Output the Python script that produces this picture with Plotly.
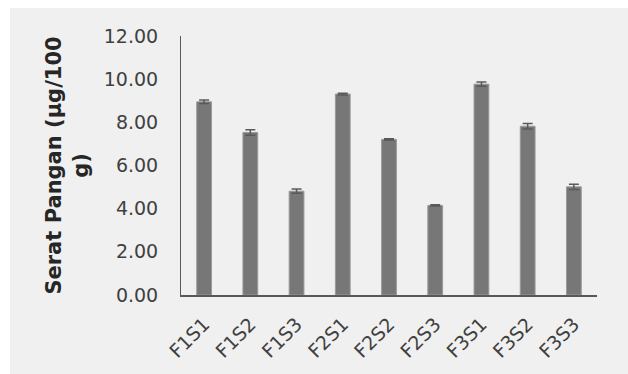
import plotly.graph_objects as go

categories = ["F1S1", "F1S2", "F1S3", "F2S1", "F2S2", "F2S3", "F3S1", "F3S2", "F3S3"]
values = [8.95, 7.53, 4.81, 9.31, 7.21, 4.15, 9.77, 7.82, 5.01]
errors = [0.08, 0.13, 0.10, 0.04, 0.03, 0.03, 0.10, 0.13, 0.12]
y_ticks = [0, 2, 4, 6, 8, 10, 12]
y_tick_labels = ["0.00", "2.00", "4.00", "6.00", "8.00", "10.00", "12.00"]

W, H = 628, 374
L, R, T, B = 181, 31, 36, 79
pw, ph = W - L - R, H - T - B

fig = go.Figure()
fig.add_trace(go.Bar(
    x=categories, y=values,
    marker=dict(color="#777777", line=dict(color="#9a9a9a", width=1)),
    error_y=dict(type="data", array=errors, visible=True, color="#595959", thickness=1.5, width=5),
))

fig.add_shape(type="rect", xref="paper", yref="paper",
              x0=(10 - L) / pw, x1=(W - L) / pw + 0.01,
              y0=-(H - T - ph) / ph - 0.01, y1=(T + ph - 8) / ph,
              fillcolor="#f0f0f0", line=dict(width=0), layer="below")

fig.update_layout(
    width=W, height=H,
    margin=dict(l=L, r=R, t=T, b=B),
    paper_bgcolor="white", plot_bgcolor="#f0f0f0",
    bargap=0.68, showlegend=False,
    font=dict(family="DejaVu Sans", color="#404040"),
)
fig.update_yaxes(
    range=[0, 12], tickvals=y_ticks, ticktext=y_tick_labels,
    showgrid=False, zeroline=False,
    showline=True, linecolor="#595959", linewidth=1,
    ticks="outside", ticklen=18, tickcolor="rgba(0,0,0,0)",
    tickfont=dict(size=19, color="#404040"),
    title=dict(text="Serat Pangan (µg/100<br>g)",
               font=dict(size=21, color="#262626", family="DejaVu Sans", weight="bold"),
               standoff=9),
    automargin=False,
)
fig.update_xaxes(
    showgrid=False, showline=True, linecolor="#595959", linewidth=1.5,
    tickangle=-45, ticks="outside", ticklen=9, tickcolor="rgba(0,0,0,0)",
    tickfont=dict(size=19, color="#404040"),
    automargin=False,
)
fig.write_html("out.html")
